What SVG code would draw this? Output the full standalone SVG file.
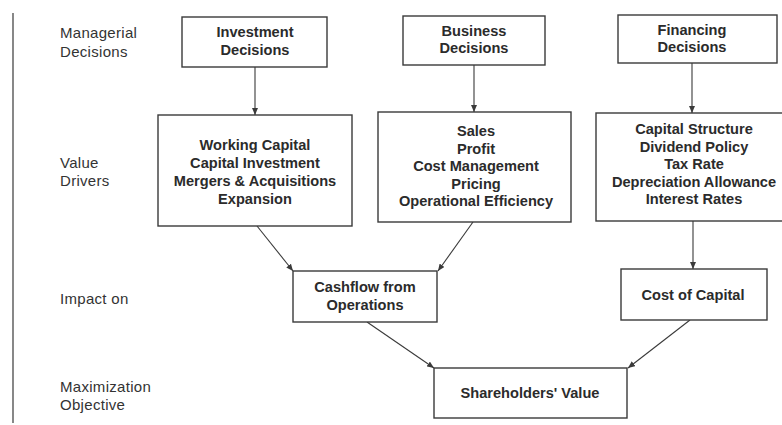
<svg xmlns="http://www.w3.org/2000/svg" width="782" height="425" viewBox="0 0 782 425">
<style>
.box{fill:#fff;stroke:#3a3a3a;stroke-width:1.4}
.t{font-family:"Liberation Sans",Arial,sans-serif;font-weight:bold;font-size:14.6px;fill:#2b2b2b;text-anchor:middle}
.lbl{font-family:"Liberation Sans",Arial,sans-serif;font-size:15px;letter-spacing:0.3px;fill:#333}
.c{stroke:#3a3a3a;stroke-width:1.1;fill:none;marker-end:url(#ah)}
</style>
<defs>
<marker id="ah" markerWidth="8" markerHeight="6" refX="7" refY="3" orient="auto" markerUnits="userSpaceOnUse">
<path d="M0,0 L7,3 L0,6 Z" fill="#3a3a3a"/>
</marker>
</defs>
<rect width="782" height="425" fill="#fff"/>
<line x1="13" y1="13" x2="13" y2="423" stroke="#555" stroke-width="1.4"/>
<g id="labels">
<text class="lbl" x="60" y="38">Managerial</text>
<text class="lbl" x="60" y="57">Decisions</text>
<text class="lbl" x="60" y="168">Value</text>
<text class="lbl" x="60" y="186">Drivers</text>
<text class="lbl" x="60" y="304">Impact on</text>
<text class="lbl" x="60" y="392">Maximization</text>
<text class="lbl" x="60" y="410">Objective</text>
</g>
<g id="connectors">
<line class="c" x1="255" y1="67" x2="255" y2="115"/>
<line class="c" x1="474" y1="65" x2="474" y2="112"/>
<line class="c" x1="692" y1="63" x2="692" y2="113"/>
<line class="c" x1="693" y1="221" x2="693" y2="269"/>
<line class="c" x1="257" y1="226" x2="293" y2="271"/>
<line class="c" x1="473" y1="222" x2="438" y2="271"/>
<line class="c" x1="367" y1="322" x2="434" y2="368"/>
<line class="c" x1="690" y1="320" x2="628" y2="368"/>
</g>
<g id="investment-decisions">
<rect class="box" x="182" y="17" width="145" height="50"/>
<text class="t" x="255" y="37">Investment</text>
<text class="t" x="255" y="55">Decisions</text>
</g>
<g id="business-decisions">
<rect class="box" x="403" y="16" width="142" height="49"/>
<text class="t" x="474" y="36">Business</text>
<text class="t" x="474" y="53">Decisions</text>
</g>
<g id="financing-decisions">
<rect class="box" x="618" y="15" width="159" height="48"/>
<text class="t" x="692" y="35">Financing</text>
<text class="t" x="692" y="52">Decisions</text>
</g>
<g id="investment-drivers">
<rect class="box" x="158" y="115" width="194" height="111"/>
<text class="t" x="255" y="150">Working Capital</text>
<text class="t" x="255" y="168">Capital Investment</text>
<text class="t" x="255" y="186">Mergers &amp; Acquisitions</text>
<text class="t" x="255" y="204">Expansion</text>
</g>
<g id="business-drivers">
<rect class="box" x="378" y="112" width="193" height="110"/>
<text class="t" x="476" y="136">Sales</text>
<text class="t" x="476" y="153.5">Profit</text>
<text class="t" x="476" y="171">Cost Management</text>
<text class="t" x="476" y="188.5">Pricing</text>
<text class="t" x="476" y="206">Operational Efficiency</text>
</g>
<g id="financing-drivers">
<rect class="box" x="596" y="113" width="190" height="108"/>
<text class="t" x="694" y="134">Capital Structure</text>
<text class="t" x="694" y="151.5">Dividend Policy</text>
<text class="t" x="694" y="169">Tax Rate</text>
<text class="t" x="694" y="186.5">Depreciation Allowance</text>
<text class="t" x="694" y="204">Interest Rates</text>
</g>
<g id="cashflow">
<rect class="box" x="293" y="271" width="144" height="51"/>
<text class="t" x="365" y="292">Cashflow from</text>
<text class="t" x="365" y="310">Operations</text>
</g>
<g id="cost-of-capital">
<rect class="box" x="621" y="269" width="146" height="51"/>
<text class="t" x="693" y="300">Cost of Capital</text>
</g>
<g id="shareholders-value">
<rect class="box" x="434" y="368" width="193" height="50"/>
<text class="t" x="530" y="398">Shareholders' Value</text>
</g>
</svg>
